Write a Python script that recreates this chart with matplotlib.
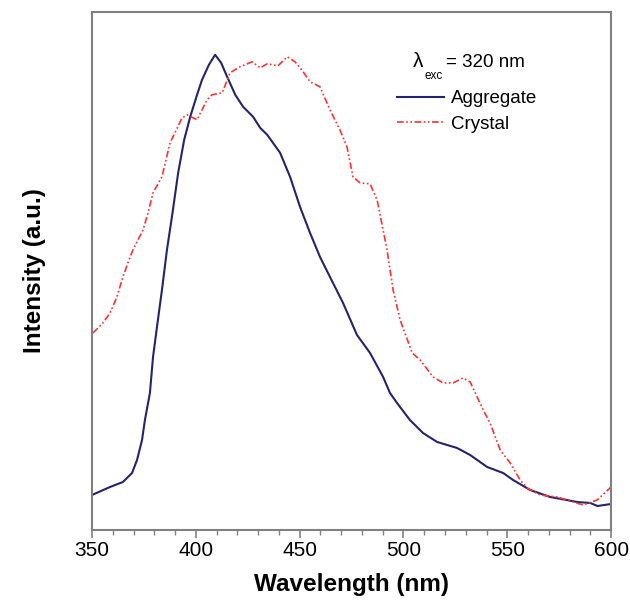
import matplotlib
matplotlib.use("Agg")
import matplotlib.pyplot as plt
from matplotlib.ticker import MultipleLocator

plt.rcParams['font.family'] = ['Liberation Sans', 'DejaVu Sans']

## the data (intensity in arbitrary units)
agg_wl = [350, 358.7, 364.9, 369.3, 371.7, 374.1, 375.5, 377.9, 379.4, 381.3,
          383.7, 386.1, 388.5, 391.5, 394.4, 397.3, 400.6, 403, 406.3, 409.3,
          412.2, 415.1, 419, 422.8, 427.6, 431, 434.4, 440.6, 445.4, 450.2,
          455, 459.8, 464.6, 470.9, 477.6, 483.9, 490.2, 493.5, 496.9, 503.1,
          509.4, 516.2, 525.8, 532.1, 540.3, 548, 552.8, 561, 570.7, 583.7,
          590, 593.4, 600]
agg_int = [35, 43, 48, 57, 70, 90, 110, 137, 173, 203,
           240, 280, 313, 357, 390, 413, 435, 450, 465, 475,
           467, 453, 435, 423, 413, 402, 395, 377, 353, 323,
           297, 273, 253, 227, 195, 177, 153, 137, 127, 110,
           97, 88, 82, 75, 63, 57, 50, 40, 33, 28,
           27, 24, 26]

cry_wl = [350.5, 355.3, 358.7, 362, 364.9, 367.3, 369.7, 374.6, 377, 379.4,
          383.7, 387.6, 393.4, 395.8, 400.6, 405.4, 407.8, 412.7, 416.5, 421.3,
          427.1, 431, 434.4, 439.6, 444, 447.8, 451.7, 455, 459.8, 464.6,
          469.4, 472.8, 475.7, 479.1, 483.9, 487.3, 490.2, 492.1, 495, 498.4,
          504.2, 508, 514.3, 519.1, 523.9, 528.7, 532.1, 535.5, 538.4, 541.7,
          546.6, 551.4, 556.2, 559.6, 565.8, 574, 578.8, 586.5, 593.3, 600]
cry_int = [197, 207, 217, 233, 253, 267, 280, 300, 317, 337,
           353, 387, 412, 415, 410, 430, 435, 437, 457, 463,
           468, 462, 466, 464, 473, 468, 458, 448, 443, 420,
           400, 383, 353, 347, 346, 330, 300, 280, 240, 210,
           177, 170, 153, 147, 147, 152, 148, 133, 120, 107,
           80, 67, 50, 42, 35, 33, 30, 25, 30, 43]

fig = plt.figure(figsize=(6.3, 6.04), dpi=100)
ax = fig.add_axes([0.146, 0.1225, 0.824, 0.858])

ax.plot(agg_wl, agg_int, color='#24246e', lw=1.5, label='Aggregate')
ax.plot(cry_wl, cry_int, color='#ff3030', lw=1.2, dashes=[4, 1.5, 1, 1.5, 1, 1.5],
        label='Crystal')

ax.set_xlim(350, 600)
ax.set_ylim(0, 518)
ax.xaxis.set_major_locator(MultipleLocator(50))
ax.xaxis.set_minor_locator(MultipleLocator(10))
ax.tick_params(axis='x', which='major', length=6, width=1.2, color='#808080',
               labelsize=15, pad=2)
ax.tick_params(axis='x', which='minor', length=3.5, width=1.0, color='#808080')
ax.set_yticks([])
for s in ax.spines.values():
    s.set_color('#808080')
    s.set_linewidth(1.5)

ax.set_xlabel('Wavelength (nm)', fontsize=17.5, fontweight='bold', labelpad=9)
ax.set_ylabel('Intensity (a.u.)', fontsize=17.5, fontweight='bold', labelpad=33)

## excitation wavelength note
ax.text(0.618, 0.894, '\u03bb', transform=ax.transAxes, fontsize=15, va='baseline')
ax.text(0.641, 0.870, 'exc', transform=ax.transAxes, fontsize=8.5, va='baseline')
ax.text(0.682, 0.894, '= 320 nm', transform=ax.transAxes, fontsize=13.5, va='baseline')

ax.legend(loc='upper left', bbox_to_anchor=(0.588, 0.849), frameon=False,
          fontsize=13.5, handlelength=2.5, handletextpad=0.35, labelspacing=0.45,
          borderaxespad=0, borderpad=0)

plt.savefig('out.png', dpi=100)
